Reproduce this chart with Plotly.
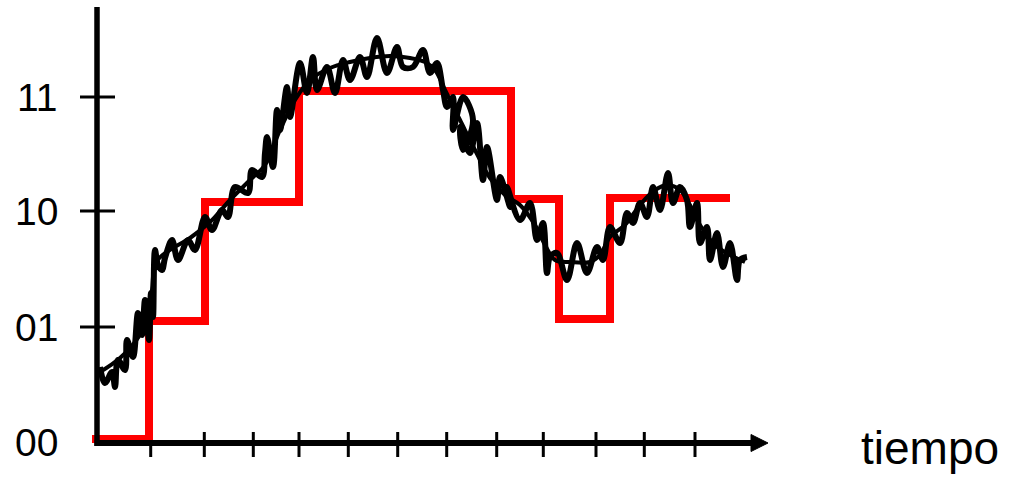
import plotly.graph_objects as go

# ---- data (time in arbitrary units, signal in arbitrary units) ----
level_labels = ["00", "01", "10", "11"]
level_values = [0, 115, 231, 345]

x_ticks = [53.7, 107.3, 156.3, 202, 251.3, 300.7, 349.7, 399.7, 446.3, 499, 547.3, 598]

# quantized (digital) signal – step levels
digital_t = [-5, 52, 108, 202, 414, 462, 513, 633]
digital_s = [3, 121, 240, 351, 243, 123, 244, 244]

# smooth analog signal
analog_t = [3, 23, 43, 51, 55, 59, 73, 93, 113, 133, 153, 168, 183, 198, 213, 233, 253, 273,
            293, 313, 328, 338, 348, 363, 378, 393, 408, 423, 438, 448, 458, 473, 493, 503,
            513, 528, 543, 558, 571, 583, 593, 603, 618, 633, 648]
analog_s = [70, 84, 107, 124, 152, 180, 192, 204, 220, 242, 262, 277, 312, 342, 362, 374, 380,
            384, 386, 384, 380, 372, 352, 322, 292, 264, 247, 237, 217, 197, 182, 180, 180, 187,
            205, 217, 237, 252, 257, 252, 237, 217, 197, 187, 180]

# noisy analog signal
noisy_t = [3, 8, 15, 18, 21, 28, 30, 36, 41, 45, 48, 52, 54, 56, 58, 61, 65, 68, 75, 81, 91, 98,
           108, 115, 125, 131, 138, 151, 155, 165, 168, 170, 176, 180, 183, 190, 193, 203, 210,
           216, 220, 230, 238, 246, 253, 263, 270, 280, 290, 300, 306, 316, 326, 333, 340, 346,
           350, 356, 356, 366, 376, 366, 363, 373, 380, 386, 390, 400, 403, 413, 410, 423, 433,
           440, 446, 450, 453, 460, 470, 480, 490, 500, 506, 513, 523, 530, 536, 543, 550, 556,
           563, 571, 576, 583, 590, 593, 600, 603, 610, 613, 620, 626, 633, 640, 643, 650]
noisy_s = [75, 59, 70, 55, 82, 72, 102, 85, 129, 107, 142, 102, 149, 125, 192, 177, 172, 184,
           202, 182, 202, 192, 225, 212, 232, 225, 255, 249, 272, 265, 289, 305, 275, 332, 312,
           355, 325, 379, 349, 385, 352, 375, 349, 382, 362, 385, 365, 404, 369, 395, 375, 375,
           392, 369, 379, 352, 335, 345, 312, 345, 322, 292, 315, 289, 319, 262, 295, 242, 265,
           235, 255, 222, 239, 202, 219, 169, 185, 189, 162, 199, 169, 195, 182, 215, 199, 229,
           219, 239, 225, 255, 232, 269, 239, 255, 242, 215, 239, 199, 215, 182, 209, 175, 199,
           162, 182, 185]

time_label = "tiempo"

# ---- axis geometry (data units) ----
X_MIN, X_MAX = -97, 913
Y_MIN, Y_MAX = 442 - 481, 442
AXIS_TOP = 435
AXIS_Y = -1
AXIS_X_END = 655
ARROW_TIP = 671

fig = go.Figure()

fig.add_trace(go.Scatter(
    x=digital_t, y=digital_s, mode="lines", line=dict(color="#ff0000", width=8, shape="hv"),
    hoverinfo="skip", showlegend=False))

fig.add_trace(go.Scatter(
    x=analog_t, y=analog_s, mode="lines", line=dict(color="black", width=4, shape="spline"),
    hoverinfo="skip", showlegend=False))

fig.add_trace(go.Scatter(
    x=noisy_t, y=noisy_s, mode="lines",
    line=dict(color="black", width=6, shape="spline", smoothing=1.0),
    hoverinfo="skip", showlegend=False))

shapes = []
# y axis line
shapes.append(dict(type="line", xref="x", yref="y", x0=0, x1=0, y0=-4, y1=AXIS_TOP,
                   line=dict(color="black", width=5.5), layer="above"))
# x axis line
shapes.append(dict(type="line", xref="x", yref="y", x0=-2.5, x1=AXIS_X_END, y0=AXIS_Y, y1=AXIS_Y,
                   line=dict(color="black", width=6), layer="above"))
# arrow head
shapes.append(dict(type="path", xref="x", yref="y",
                   path=f"M {AXIS_X_END-1},{AXIS_Y+8.5} L {ARROW_TIP},{AXIS_Y} L {AXIS_X_END-1},{AXIS_Y-8.5} Z",
                   fillcolor="black", line=dict(color="black", width=1), layer="above"))
# x ticks
for i, t in enumerate(x_ticks):
    y_top = AXIS_Y + (-2 if i == 0 else 11)
    shapes.append(dict(type="line", xref="x", yref="y", x0=t, x1=t, y0=AXIS_Y - 14, y1=y_top,
                       line=dict(color="black", width=3), layer="above"))
# y ticks
for v in level_values[1:]:
    shapes.append(dict(type="line", xref="x", yref="y", x0=-17, x1=18, y0=v, y1=v,
                       line=dict(color="black", width=3), layer="above"))

annotations = []
for lab, v in zip(level_labels, level_values):
    annotations.append(dict(x=-37, y=v, xref="x", yref="y", text=lab, showarrow=False,
                            xanchor="right", yanchor="middle",
                            font=dict(family="Arial, Liberation Sans, sans-serif", size=39, color="black")))
annotations.append(dict(x=833, y=-6, xref="x", yref="y", text=time_label, showarrow=False,
                        xanchor="center", yanchor="middle",
                        font=dict(family="Arial, Liberation Sans, sans-serif", size=46, color="black")))

fig.update_layout(
    width=1010, height=481, autosize=False,
    margin=dict(l=0, r=0, t=0, b=0, pad=0),
    paper_bgcolor="white", plot_bgcolor="white",
    xaxis=dict(range=[X_MIN, X_MAX], visible=False, fixedrange=True),
    yaxis=dict(range=[Y_MIN, Y_MAX], visible=False, fixedrange=True),
    shapes=shapes, annotations=annotations, showlegend=False,
)

fig.write_html("out.html", config={"displayModeBar": False},
               post_script="document.body.style.margin='0';document.body.style.overflow='hidden';")
